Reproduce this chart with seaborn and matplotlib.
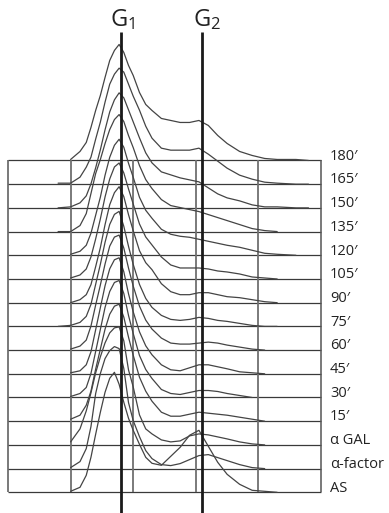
import numpy as np
import pandas as pd
import matplotlib
matplotlib.use("Agg")
import matplotlib.pyplot as plt
import seaborn as sns

N = np.nan

# DNA-content channels at which each histogram was read
channels = [160, 200, 230, 250, 265, 280, 295, 310, 325, 340, 355, 370, 385, 400, 420,
            440, 460, 490, 520, 550, 580, 610, 640, 670, 700, 740, 780, 820, 860, 920, 960]

# histogram heights (counts, arbitrary units) per sample
h180 = [N, 1, 9, 18, 33, 50, 65, 83, 100, 110, 116, 108, 95, 85, 68, 56, 50, 42, 40, 38,
        38, 40, 35, 25, 17, 9, 5, 2, 1, 1, 0]
h165 = [1, 1, 7, 17, 27, 45, 62, 82, 100, 110, 116, 112, 100, 88, 74, 58, 46, 36, 34, 34,
        34, 36, 30, 23, 16, 9, 5, 2, 1, 0, 0]
h150 = [0, 1, 5, 12, 24, 40, 58, 78, 96, 108, 115, 110, 98, 86, 70, 55, 45, 36, 33, 30,
        28, 26, 20, 14, 10, 7, 3, 1, 1, 0, 0]
h135 = [0, 0, 6, 18, 38, 58, 72, 88, 102, 112, 117, 110, 96, 84, 66, 52, 43, 32, 26, 24,
        22, 20, 17, 14, 11, 7, 3, 1, 0, N, N]
h120 = [N, 1, 4, 10, 22, 40, 58, 80, 98, 110, 116, 108, 92, 78, 58, 45, 37, 26, 21, 19,
        18, 16, 14, 12, 10, 8, 5, 2, 1, 0, N]
h105 = [N, 1, 4, 10, 22, 40, 60, 82, 100, 112, 116, 106, 90, 75, 55, 42, 34, 22, 14, 11,
        11, 11, 10, 8, 7, 5, 2, 1, 0, N, N]
h90 = [N, 0, 3, 8, 18, 36, 55, 78, 98, 110, 116, 106, 88, 72, 52, 40, 33, 19, 11, 8,
       8, 10, 10, 8, 6, 5, 3, 1, 0, N, N]
h75 = [0, 1, 4, 10, 22, 42, 62, 84, 102, 112, 115, 100, 80, 62, 42, 28, 19, 11, 7, 6,
       7, 9, 8, 6, 5, 3, 1, 0, 0, N, N]
h60 = [N, 1, 4, 10, 24, 45, 65, 86, 104, 113, 115, 102, 82, 64, 44, 30, 21, 12, 7, 6,
       6, 7, 8, 7, 5, 3, 1, 0, N, N, N]
h45 = [N, 1, 3, 9, 22, 44, 66, 88, 105, 114, 116, 102, 80, 62, 42, 28, 19, 9, 4, 3,
       6, 9, 9, 7, 5, 2, 1, 0, N, N, N]
h30 = [N, 1, 4, 10, 24, 46, 68, 90, 106, 115, 117, 104, 82, 64, 42, 28, 19, 8, 4, 3,
       5, 7, 7, 6, 4, 2, 0, N, N, N, N]
h15 = [N, 2, 6, 16, 30, 52, 72, 92, 107, 115, 117, 104, 84, 66, 44, 30, 20, 9, 5, 5,
       7, 9, 8, 7, 6, 4, 2, 0, N, N, N]
hGAL = [N, 3, 16, 34, 52, 72, 88, 102, 112, 117, 118, 104, 75, 58, 30, 16, 11, 5, 3, 4,
        9, 11, 10, 8, 6, 3, 1, 0, N, N, N]
hAF = [N, 1, 7, 20, 42, 75, 95, 110, 118, 122, 120, 100, 66, 48, 32, 18, 10, 4, 3, 5,
       9, 13, 14, 11, 8, 4, 1, 0, N, N, N]
hAS = [N, 1, 5, 17, 35, 58, 80, 100, 114, 120, 108, 90, 74, 62, 48, 35, 29, 27, 36, 45,
       57, 62, 46, 30, 18, 8, 2, 1, 0, N, N]

labels = ["180\u2032", "165\u2032", "150\u2032", "135\u2032", "120\u2032", "105\u2032",
          "90\u2032", "75\u2032", "60\u2032", "45\u2032", "30\u2032", "15\u2032",
          "\u03b1 GAL", "\u03b1-factor", "AS"]
heights = [h180, h165, h150, h135, h120, h105, h90, h75, h60, h45, h30, h15, hGAL, hAF, hAS]

g1_channel = 361
g2_channel = 620
grid_channels = [200, 400, 600, 800]

sns.set_style("white")
plt.rcParams["font.family"] = ["Open Sans", "DejaVu Sans"]
plt.rcParams["mathtext.fontset"] = "custom"
plt.rcParams["mathtext.rm"] = "Open Sans"

fig = plt.figure(figsize=(3.89, 5.13), dpi=100)
ax = fig.add_axes([0, 0, 1, 1])
ax.set_xlim(-25.56, 1217.2)
ax.set_ylim(-0.873, 20.77)
ax.axis("off")

nrows = len(labels)
counts_per_row = 23.7

# grid box
ax.hlines(range(nrows), 0, 1000, color="#3a3a3a", lw=0.9, zorder=1)
ax.vlines(grid_channels, 0, nrows - 1, color="#707070", lw=1.3, zorder=1)
ax.vlines([0, 1000], 0, nrows - 1, color="#555555", lw=1.1, zorder=1)

for i, (lab, h) in enumerate(zip(labels, heights)):
    base = nrows - 1 - i
    df = pd.DataFrame({"ch": channels, "y": base + np.array(h, float) / counts_per_row})
    df = df.dropna()
    sns.lineplot(data=df, x="ch", y="y", ax=ax, color="#444444", lw=0.9,
                 estimator=None, sort=False, zorder=2)
    ax.text(1029, base + 0.18, lab, fontsize=10.5, ha="left", va="center", color="#222222")

ax.vlines([g1_channel, g2_channel], -0.9, 19.42, color="#1a1a1a", lw=2.0, zorder=3)
ax.text(326, 19.95, r"$\mathregular{G_1}$", fontsize=17, ha="left", va="center", color="#222222")
ax.text(591, 19.95, r"$\mathregular{G_2}$", fontsize=17, ha="left", va="center", color="#222222")

ax.set_xlabel("")
ax.set_ylabel("")
fig.savefig("out.png", dpi=100)
